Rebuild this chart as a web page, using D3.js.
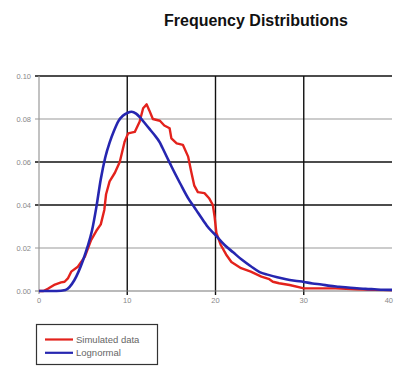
<!DOCTYPE html>
<html>
<head>
<meta charset="utf-8">
<script src="https://cdn.jsdelivr.net/npm/d3@7/dist/d3.min.js"></script>
<style>
  html, body { margin: 0; padding: 0; background: #fff; }
  svg { display: block; }
</style>
</head>
<body>
<svg id="chart" width="394" height="367"></svg>
<script>
// ---- data ----
const title = "Frequency Distributions";
const seriesNames = ["Simulated data", "Lognormal"];
const xTicks = [0, 10, 20, 30, 40];
const yTicks = [0.00, 0.02, 0.04, 0.06, 0.08, 0.10];
const yTickLabels = ["0.00", "0.02", "0.04", "0.06", "0.08", "0.10"];

const simX = [0, 0.5, 1, 1.8, 2.5, 2.9, 3.3, 3.65, 4.4, 5.2, 5.9, 6.5, 7.0, 7.4, 7.6, 8.0, 8.6, 9.15, 9.7, 10.1, 10.85, 11.4, 11.8, 12.2, 12.5, 12.9, 13.7, 14.2, 14.8, 15.0, 15.6, 16.3, 16.9, 17.25, 17.6, 18.0, 18.75, 19.3, 19.7, 19.9, 20.1, 20.6, 21.2, 21.8, 22.9, 24.0, 25.2, 26.1, 26.5, 27.2, 28.4, 29.9, 31, 33.6, 36, 38, 40];
const simY = [0, 0, 0.001, 0.003, 0.004, 0.0043, 0.006, 0.009, 0.0113, 0.016, 0.0237, 0.028, 0.031, 0.0377, 0.045, 0.051, 0.055, 0.060, 0.0694, 0.0733, 0.074, 0.0787, 0.085, 0.0868, 0.084, 0.080, 0.0792, 0.077, 0.0757, 0.071, 0.0687, 0.068, 0.0625, 0.0555, 0.049, 0.046, 0.0455, 0.043, 0.040, 0.0345, 0.027, 0.0214, 0.017, 0.0135, 0.0106, 0.009, 0.0067, 0.0055, 0.0043, 0.0036, 0.0028, 0.0013, 0.0012, 0.0012, 0.0008, 0.0005, 0.0004];

const logX = [0, 1, 2, 3, 4, 5, 5.5, 6, 6.5, 7, 7.5, 8, 8.5, 9, 9.5, 10, 10.5, 11, 11.5, 12, 12.5, 13, 13.7, 14, 14.8, 15, 16, 17, 17.6, 18, 18.75, 19, 20, 21, 22, 23, 24, 25, 26, 27, 28, 29, 30, 31, 32, 33, 34, 35, 36, 37, 38, 39, 40];
const logY = [0, 0, 0, 0.0005, 0.005, 0.0144, 0.0206, 0.028, 0.039, 0.052, 0.062, 0.069, 0.0745, 0.079, 0.0815, 0.0828, 0.0834, 0.0825, 0.0805, 0.078, 0.0755, 0.073, 0.069, 0.0665, 0.0597, 0.058, 0.050, 0.0425, 0.039, 0.0365, 0.032, 0.0305, 0.026, 0.0215, 0.018, 0.0145, 0.0115, 0.0088, 0.0075, 0.0064, 0.0055, 0.0048, 0.0042, 0.0035, 0.003, 0.0024, 0.002, 0.0016, 0.0013, 0.001, 0.0008, 0.0006, 0.0005];

const colors = ["#e3221c", "#2626b0"];

// ---- layout ----
const svg = d3.select("#chart");
const m = { left: 39, right: 392, top: 76, bottom: 291 };

const x = d3.scaleLinear().domain([0, 40]).range([m.left, m.right]);
const y = d3.scaleLinear().domain([0, 0.10]).range([m.bottom, m.top]);

svg.append("rect").attr("width", 394).attr("height", 367).attr("fill", "#fff");

// title
svg.append("text")
  .attr("x", 256).attr("y", 26)
  .attr("text-anchor", "middle")
  .attr("font-family", "Liberation Sans, Arial, sans-serif")
  .attr("font-weight", "bold")
  .attr("font-size", 16)
  .attr("fill", "#111")
  .text(title);

// horizontal grid
const darkY = [0.04, 0.06, 0.10];
svg.append("g").selectAll("line")
  .data(yTicks.filter(d => d > 0))
  .join("line")
  .attr("x1", m.left - 4).attr("x2", m.right)
  .attr("y1", d => y(d)).attr("y2", d => y(d))
  .attr("stroke", d => darkY.some(v => Math.abs(v - d) < 1e-9) ? "#111" : "#999")
  .attr("stroke-width", d => darkY.some(v => Math.abs(v - d) < 1e-9) ? 1.4 : 1.1);

// vertical grid
svg.append("g").selectAll("line")
  .data(xTicks.filter(d => d > 0 && d < 40))
  .join("line")
  .attr("x1", d => x(d)).attr("x2", d => x(d))
  .attr("y1", m.top).attr("y2", m.bottom + 4)
  .attr("stroke", "#111").attr("stroke-width", 1.4);

// axes lines
svg.append("line")
  .attr("x1", m.left).attr("x2", m.left).attr("y1", m.top).attr("y2", m.bottom + 3)
  .attr("stroke", "#999").attr("stroke-width", 1.2);
svg.append("line")
  .attr("x1", m.left - 4).attr("x2", m.right).attr("y1", m.bottom).attr("y2", m.bottom)
  .attr("stroke", "#777").attr("stroke-width", 1.2);

// y tick labels
svg.append("g").selectAll("text")
  .data(yTicks)
  .join("text")
  .attr("x", 31).attr("y", d => y(d) + 2.5)
  .attr("text-anchor", "end")
  .attr("font-family", "Liberation Sans, Arial, sans-serif")
  .attr("font-size", 7.5)
  .attr("fill", "#888")
  .text((d, i) => yTickLabels[i]);

// x tick labels
svg.append("g").selectAll("text")
  .data(xTicks)
  .join("text")
  .attr("x", d => d === 40 ? 393 : x(d)).attr("y", 303)
  .attr("text-anchor", d => d === 40 ? "end" : "middle")
  .attr("font-family", "Liberation Sans, Arial, sans-serif")
  .attr("font-size", 7.5)
  .attr("fill", "#888")
  .text(d => d);

// lines
const line = d3.line().x(d => x(d[0])).y(d => y(d[1]));
const logData = logX.map((v, i) => [v, logY[i]]);
const simData = simX.map((v, i) => [v, simY[i]]);
const lineLog = d3.line().x(d => x(d[0])).y(d => y(d[1])).curve(d3.curveMonotoneX);

svg.append("path")
  .attr("d", line(simData))
  .attr("fill", "none").attr("stroke", colors[0]).attr("stroke-width", 2.4)
  .attr("stroke-linejoin", "round");
svg.append("path")
  .attr("d", lineLog(logData))
  .attr("fill", "none").attr("stroke", colors[1]).attr("stroke-width", 2.6)
  .attr("stroke-linejoin", "round");

// legend
const lg = svg.append("g");
lg.append("rect")
  .attr("x", 36.5).attr("y", 324.5).attr("width", 121).attr("height", 40)
  .attr("fill", "#fff").attr("stroke", "#333").attr("stroke-width", 1.2);
seriesNames.forEach((name, i) => {
  const yy = 339.5 + i * 13.3;
  lg.append("line")
    .attr("x1", 45).attr("x2", 73).attr("y1", yy).attr("y2", yy)
    .attr("stroke", colors[i]).attr("stroke-width", 2.2);
  lg.append("text")
    .attr("x", 76).attr("y", yy + 3)
    .attr("font-family", "Liberation Sans, Arial, sans-serif")
    .attr("font-size", 9.5)
    .attr("fill", "#666")
    .text(name);
});
</script>
</body>
</html>
